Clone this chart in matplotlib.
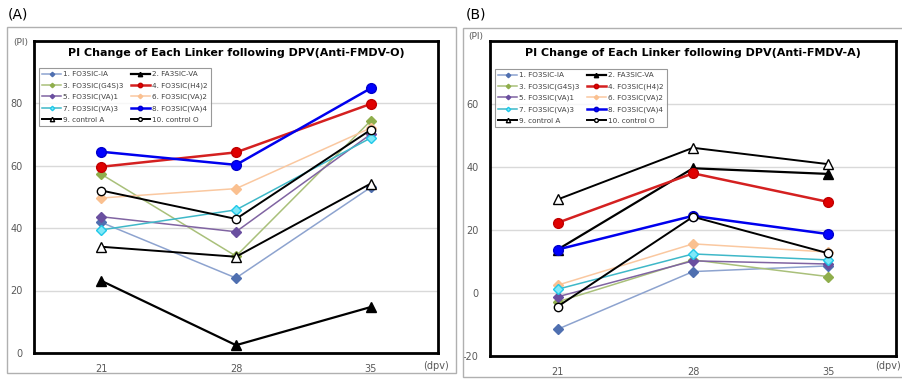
import matplotlib
matplotlib.use("Agg")
import matplotlib.pyplot as plt
from matplotlib.patches import Rectangle

days = ["21", "28", "35"]
labels = ["1. FO3SIC-IA", "2. FA3SIC-VA", "3. FO3SIC(G4S)3", "4. FO3SIC(H4)2",
          "5. FO3SIC(VA)1", "6. FO3SIC(VA)2", "7. FO3SIC(VA)3", "8. FO3SIC(VA)4",
          "9. control A", "10. control O"]

# Panel A (Anti-FMDV-O)
a_s1 = [41.8, 24.0, 53.0]
a_s2 = [23.1, 2.5, 14.7]
a_s3 = [57.2, 31.0, 74.3]
a_s4 = [59.6, 64.2, 79.7]
a_s5 = [43.6, 38.8, 70.0]
a_s6 = [49.6, 52.6, 72.0]
a_s7 = [39.4, 45.8, 68.8]
a_s8 = [64.4, 60.2, 84.7]
a_s9 = [34.0, 30.8, 54.2]
a_s10 = [52.0, 42.9, 71.4]

# Panel B (Anti-FMDV-A)
b_s1 = [-11.5, 6.8, 8.6]
b_s2 = [13.8, 39.6, 37.8]
b_s3 = [-2.8, 10.5, 5.2]
b_s4 = [22.3, 38.0, 28.9]
b_s5 = [-1.2, 10.2, 9.2]
b_s6 = [2.5, 15.6, 13.0]
b_s7 = [1.2, 12.4, 10.5]
b_s8 = [13.8, 24.5, 18.7]
b_s9 = [29.7, 46.1, 40.9]
b_s10 = [-4.3, 24.2, 12.6]

styles = [
    dict(color="#8DA3CF", marker="D", ms=5, mfc="#4F6FB0", mec="#4F6FB0", lw=1.1),
    dict(color="#000000", marker="^", ms=7, mfc="#000000", mec="#000000", lw=1.6),
    dict(color="#A9C07A", marker="D", ms=5, mfc="#8FAE4C", mec="#8FAE4C", lw=1.1),
    dict(color="#D42020", marker="o", ms=7, mfc="#E00000", mec="#C00000", lw=1.8),
    dict(color="#8064A2", marker="D", ms=5, mfc="#6A4FA0", mec="#6A4FA0", lw=1.1),
    dict(color="#FAC8A0", marker="D", ms=5, mfc="#FAC090", mec="#FAC090", lw=1.1),
    dict(color="#3FB8C8", marker="D", ms=5, mfc="#7FE8F8", mec="#20C8E8", lw=1.1),
    dict(color="#0000EE", marker="o", ms=7, mfc="#0000FF", mec="#0000CC", lw=1.8),
    dict(color="#000000", marker="^", ms=7, mfc="white", mec="#000000", lw=1.4),
    dict(color="#000000", marker="o", ms=6, mfc="white", mec="#000000", lw=1.4),
]

W, H = 903, 379
fig = plt.figure(figsize=(W / 100, H / 100), dpi=100)

def px_axes(left, top, right, bottom):
    return fig.add_axes([left / W, 1 - bottom / H, (right - left) / W, (bottom - top) / H])

def outer_box(left, top, right, bottom):
    fig.patches.append(Rectangle((left / W, 1 - bottom / H), (right - left) / W, (bottom - top) / H,
                                 transform=fig.transFigure, fill=False, ec="#B0B0B0", lw=1.0))

tick_color = "#595959"

def panel(ax, data, ylim, yticks, title, leg_anchor):
    x = list(range(len(days)))
    handles = []
    for vals, lab, st in zip(data, labels, styles):
        h, = ax.plot(x, vals, label=lab, color=st["color"], lw=st["lw"], marker=st["marker"],
                     ms=st["ms"], mfc=st["mfc"], mec=st["mec"], mew=1.0)
        handles.append(h)
    ax.set_xlim(-0.5, 2.5)
    ax.set_ylim(*ylim)
    ax.set_xticks(x)
    ax.set_xticklabels(days)
    ax.set_yticks(yticks)
    ax.set_yticklabels([str(t) for t in yticks])
    ax.tick_params(length=0, labelsize=7, colors=tick_color, pad=8)
    ax.yaxis.grid(True, color="#D9D9D9", lw=1.0)
    ax.set_axisbelow(True)
    for sp in ax.spines.values():
        sp.set_linewidth(2.0)
        sp.set_color("black")
    ax.set_title(title, fontsize=8.0, fontweight="bold", pad=-11, y=1.0)
    order = [0, 2, 4, 6, 8, 1, 3, 5, 7, 9]
    leg = ax.legend([handles[i] for i in order], [labels[i] for i in order],
                    ncol=2, loc="upper left", bbox_to_anchor=leg_anchor, bbox_transform=fig.transFigure,
                    fontsize=5.2, frameon=True, fancybox=False, edgecolor="#808080",
                    handlelength=2.6, handletextpad=0.3, columnspacing=1.0, labelspacing=0.68,
                    borderpad=0.45, borderaxespad=0, markerscale=0.45)
    leg.get_frame().set_linewidth(0.8)
    for t in leg.get_texts():
        t.set_color("#404040")

# Panel A
outer_box(7, 27, 456, 373)
axA = px_axes(34, 40.5, 438, 353)
panel(axA, [a_s1, a_s2, a_s3, a_s4, a_s5, a_s6, a_s7, a_s8, a_s9, a_s10],
      (0, 100), [0, 20, 40, 60, 80],
      "PI Change of Each Linker following DPV(Anti-FMDV-O)", (39 / W, 1 - 68 / H))
fig.text(8 / W, 1 - 15 / H, "(A)", fontsize=10, va="center", ha="left")
fig.text(21 / W, 1 - 42 / H, "(PI)", fontsize=6.5, va="center", ha="center", color=tick_color)
fig.text(449 / W, 1 - 366 / H, "(dpv)", fontsize=7, va="center", ha="right", color=tick_color)

# Panel B
outer_box(463, 28, 903, 377)
axB = px_axes(490, 41, 896, 356)
panel(axB, [b_s1, b_s2, b_s3, b_s4, b_s5, b_s6, b_s7, b_s8, b_s9, b_s10],
      (-20, 80), [-20, 0, 20, 40, 60],
      "PI Change of Each Linker following DPV(Anti-FMDV-A)", (495 / W, 1 - 69 / H))
fig.text(466 / W, 1 - 15 / H, "(B)", fontsize=10, va="center", ha="left")
fig.text(476 / W, 1 - 36 / H, "(PI)", fontsize=6.5, va="center", ha="center", color=tick_color)
fig.text(901 / W, 1 - 366 / H, "(dpv)", fontsize=7, va="center", ha="right", color=tick_color)

fig.savefig("out.png", dpi=100)
